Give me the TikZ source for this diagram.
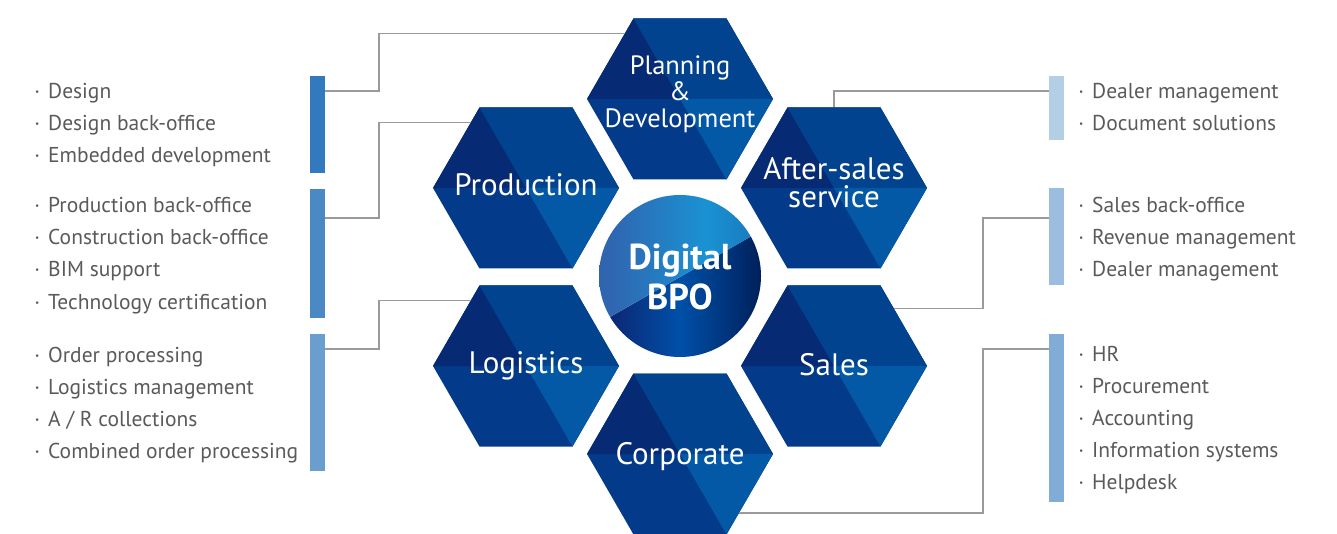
\documentclass[tikz,border=0pt]{standalone}
\usepackage{fontspec}
\setmainfont{PT Sans}
\usetikzlibrary{shapes.geometric,calc}
\definecolor{hTL}{HTML}{062A73}
\definecolor{hTR}{HTML}{02438F}
\definecolor{hBL}{HTML}{033A89}
\definecolor{hBR}{HTML}{0459A6}
\definecolor{txt}{HTML}{5A5A5A}
\definecolor{conn}{HTML}{9A9A9A}
\definecolor{lb1}{HTML}{3279BD}
\definecolor{lb2}{HTML}{4A89C4}
\definecolor{lb3}{HTML}{6A9ECF}
\definecolor{rb1}{HTML}{B3CFE6}
\definecolor{rb2}{HTML}{9BBDE0}
\definecolor{rb3}{HTML}{80ACD6}
\definecolor{cU1}{HTML}{3D4A9E}
\definecolor{cU2}{HTML}{2F68B2}
\definecolor{cU3}{HTML}{1A92D2}
\definecolor{cU4}{HTML}{1670B6}
\definecolor{cU5}{HTML}{0C4A8E}
\definecolor{cL1}{HTML}{121660}
\definecolor{cL2}{HTML}{0050A8}
\definecolor{cL3}{HTML}{000C3C}
\pgfdeclarehorizontalshading{bpoup}{100bp}{color(0bp)=(cU1); color(30bp)=(cU2); color(58bp)=(cU3); color(80bp)=(cU4); color(100bp)=(cU5)}
\pgfdeclarehorizontalshading{bpolow}{100bp}{color(0bp)=(cL1); color(20bp)=(cL1); color(50bp)=(cL2); color(85bp)=(cL3); color(100bp)=(cL3)}
\tikzset{
  hexnode/.style={regular polygon, regular polygon sides=6, minimum size=186pt, inner sep=0pt, outer sep=0pt},
  hexlabel/.style={text=white, inner sep=0pt, font=\fontsize{31}{32}\selectfont, align=center},
  barbox/.style={rectangle, inner sep=0pt, outer sep=0pt, minimum width=15pt, anchor=north west},
  litem/.style={anchor=base west, inner sep=0pt, text=txt, font=\fontsize{21.5}{26}\selectfont},
  connline/.style={draw=conn, line width=1.5pt},
}
\newcommand\hexcell[3]{%
  \begin{scope}[shift={(#2,#3)}]
    \fill[hBL] (-93,0) -- (-46.5,-80.5) -- (46.5,-80.5) -- (93,0) -- (46.5,80.5) -- (-46.5,80.5) -- cycle;
    \fill[hTL] (-93,0) -- (-46.5,-80.5) -- (0,0) -- cycle;
    \fill[hTR] (-46.5,-80.5) -- (46.5,-80.5) -- (93,0) -- (0,0) -- cycle;
    \fill[hBR] (0,0) -- (93,0) -- (46.5,80.5) -- cycle;
  \end{scope}
  \node[hexnode] (#1) at (#2,#3) {};
}
\newcommand\lbul{\llap{\textperiodcentered\hspace{8pt}}}
\begin{document}
\begin{tikzpicture}[x=1pt,y=-1pt]
\useasboundingbox (0,0) rectangle (1337,534);
% hexagons
\hexcell{plan}{680}{99}
\hexcell{prod}{526}{188}
\hexcell{after}{834}{188}
\hexcell{logi}{526}{366}
\hexcell{sales}{834}{366}
\hexcell{corp}{680}{454}
\node[hexlabel, font=\fontsize{26.5}{26.5}\selectfont] (planL) at (680,94) {Planning\\\&\\Development};
\node[hexlabel, anchor=base] (prodL) at (526,196) {Production};
\node[hexlabel, font=\fontsize{31}{28}\selectfont] (afterL) at (834,183) {After-sales\\service};
\node[hexlabel, anchor=base] (logiL) at (526,373) {Logistics};
\node[hexlabel, anchor=base] (salesL) at (834,375) {Sales};
\node[hexlabel, anchor=base] (corpL) at (680,464) {Corporate};
% center circle
\begin{scope}
  \clip (680,276) circle (81);
  \shade[shading=bpolow] (599,323.3) -- (761,230.7) -- (761,358) -- (599,358) -- cycle;
  \shade[shading=bpoup] (599,323.3) -- (761,230.7) -- (761,194) -- (599,194) -- cycle;
\end{scope}
\node[circle, minimum size=162pt, inner sep=0pt, text=white, align=center,
      font=\bfseries\fontsize{36}{40}\selectfont] (core) at (680,277) {Digital\\BPO};
% left bars
\node[barbox, fill=lb1, minimum height=97pt] (lbar1) at (310,76) {};
\node[barbox, fill=lb2, minimum height=129pt] (lbar2) at (310,189) {};
\node[barbox, fill=lb3, minimum height=137pt] (lbar3) at (310,334) {};
% right bars
\node[barbox, fill=rb1, minimum height=64pt] (rbar1) at (1049,76) {};
\node[barbox, fill=rb2, minimum height=97pt] (rbar2) at (1049,188) {};
\node[barbox, fill=rb3, minimum height=168pt] (rbar3) at (1049,334) {};
% connectors
\draw[connline] ([yshift=-15pt]lbar1.north east) -- ++(54,0) |- (plan.130);
\draw[connline] ([yshift=-29pt]lbar2.north east) -- ++(54,0) |- (prod.130);
\draw[connline] ([yshift=-15pt]lbar3.north east) -- ++(54,0) |- (logi.130);
\draw[connline] ([yshift=-15pt]rbar1.north west) -| (after.north);
\draw[connline] ([yshift=-30pt]rbar2.north west) -- ++(-66,0) |- (sales.44.5);
\draw[connline] ([yshift=-15pt]rbar3.north west) -- ++(-66,0) |- (corp.-45);
% left items
\node[litem] (l1) at (48,99) {\lbul Design};
\node[litem] (l2) at (48,131) {\lbul Design back-office};
\node[litem] (l3) at (48,163) {\lbul Embedded development};
\node[litem] (l4) at (48,213) {\lbul Production back-office};
\node[litem] (l5) at (48,245) {\lbul Construction back-office};
\node[litem] (l6) at (48,277) {\lbul BIM support};
\node[litem] (l7) at (48,309) {\lbul Technology certification};
\node[litem] (l8) at (48,362) {\lbul Order processing};
\node[litem] (l9) at (48,394) {\lbul Logistics management};
\node[litem] (l10) at (48,426) {\lbul A / R collections};
\node[litem] (l11) at (48,458) {\lbul Combined order processing};
% right items
\node[litem] (r1) at (1092,99) {\lbul Dealer management};
\node[litem] (r2) at (1092,131) {\lbul Document solutions};
\node[litem] (r3) at (1092,213) {\lbul Sales back-office};
\node[litem] (r4) at (1092,245) {\lbul Revenue management};
\node[litem] (r5) at (1092,277) {\lbul Dealer management};
\node[litem] (r6) at (1092,361) {\lbul HR};
\node[litem] (r7) at (1092,393) {\lbul Procurement};
\node[litem] (r8) at (1092,425) {\lbul Accounting};
\node[litem] (r9) at (1092,457) {\lbul Information systems};
\node[litem] (r10) at (1092,489) {\lbul Helpdesk};
\end{tikzpicture}
\end{document}
